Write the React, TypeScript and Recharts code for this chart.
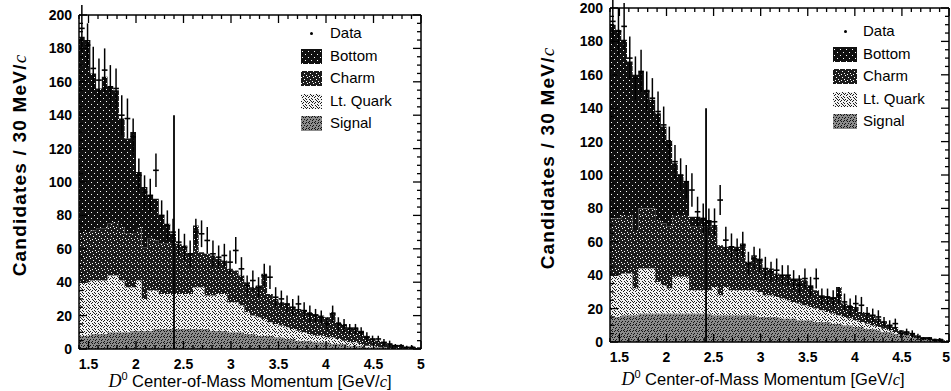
import React from 'react';
import { ComposedChart, Area, Scatter, ErrorBar, XAxis, YAxis, ReferenceLine } from 'recharts';

// bin edges (GeV/c), 60 MeV wide
const BIN_EDGES = [
  1.4, 1.46, 1.52, 1.58, 1.64, 1.7, 1.76, 1.82, 1.88, 1.94, 2.0, 2.06, 2.12, 2.18, 2.24, 2.3,
  2.36, 2.42, 2.48, 2.54, 2.6, 2.66, 2.72, 2.78, 2.84, 2.9, 2.96, 3.02, 3.08, 3.14, 3.2, 3.26,
  3.32, 3.38, 3.44, 3.5, 3.56, 3.62, 3.68, 3.74, 3.8, 3.86, 3.92, 3.98, 4.04, 4.1, 4.16, 4.22,
  4.28, 4.34, 4.4, 4.46, 4.52, 4.58, 4.64, 4.7, 4.76, 4.82, 4.88, 4.94, 5.0,
];

const X_TICKS = [
  1.4, 1.5, 1.6, 1.7, 1.8, 1.9, 2, 2.1, 2.2, 2.3, 2.4, 2.5, 2.6, 2.7, 2.8, 2.9, 3, 3.1, 3.2,
  3.3, 3.4, 3.5, 3.6, 3.7, 3.8, 3.9, 4, 4.1, 4.2, 4.3, 4.4, 4.5, 4.6, 4.7, 4.8, 4.9, 5,
];
const X_LABELS = [1.5, 2, 2.5, 3, 3.5, 4, 4.5, 5];
const Y_TICKS = [
  0, 5, 10, 15, 20, 25, 30, 35, 40, 45, 50, 55, 60, 65, 70, 75, 80, 85, 90, 95, 100, 105, 110,
  115, 120, 125, 130, 135, 140, 145, 150, 155, 160, 165, 170, 175, 180, 185, 190, 195, 200,
];
const Y_LABELS = [0, 20, 40, 60, 80, 100, 120, 140, 160, 180, 200];

const LEGEND_LABELS = ['Data', 'Bottom', 'Charm', 'Lt. Quark', 'Signal'];

// left panel
const L_SIGNAL = [
  8, 8, 9, 9, 9, 10, 10, 10, 10, 11, 11, 11, 11, 12, 12, 12, 12, 12, 12, 12,
  12, 12, 12, 11, 11, 11, 10, 10, 10, 9, 9, 8, 8, 8, 7, 7, 6, 6, 5, 5,
  5, 4, 4, 4, 3, 3, 3, 2, 2, 2, 1, 1, 1, 1, 0, 0, 0, 0, 0, 0,
];
const L_LTQUARK = [
  32, 32, 32, 32, 32, 34, 34, 31, 27, 26, 30, 19, 24, 23, 21, 21, 21, 21, 21, 21,
  25, 25, 20, 21, 22, 22, 18, 18, 16, 13, 11, 11, 10, 8, 8, 7, 7, 6, 6, 5,
  4, 4, 4, 3, 4, 3, 2, 2, 2, 1, 1, 1, 0, 0, 0, 0, 0, 0, 0, 0,
];
const L_CHARM = [
  30, 30, 30, 31, 31, 31, 32, 32, 32, 32, 32, 31, 31, 30, 30, 30, 30, 30, 29, 24,
  37, 21, 25, 24, 21, 20, 20, 19, 18, 18, 17, 19, 27, 17, 15, 14, 14, 13, 13, 13,
  13, 13, 12, 12, 15, 10, 10, 9, 9, 8, 6, 4, 4, 3, 3, 2, 2, 1, 1, 1,
];
const L_BOTTOM = [
  117, 115, 94, 84, 91, 82, 79, 65, 57, 61, 33, 36, 26, 25, 17, 12, 6, 0, 0, 0,
  0, 0, 0, 0, 0, 0, 0, 0, 0, 0, 0, 0, 0, 0, 0, 0, 0, 0, 0, 0,
  0, 0, 0, 0, 0, 0, 0, 0, 0, 0, 0, 0, 0, 0, 0, 0, 0, 0, 0, 0,
];
const L_DATA = [
  192, 182, 168, 161, 167, 157, 156, 140, 138, 127, 104, 94, 92, 107, 80, 74, 70, 64, 61, 57,
  70, 69, 65, 57, 55, 56, 52, 59, 48, 38, 41, 37, 44, 43, 31, 30, 27, 25, 27, 23,
  21, 20, 19, 15, 21, 15, 14, 12, 12, 10, 7, 6, 6, 4, 3, 2, 2, 1, 1, 0,
];
const L_ERR = [
  14, 13, 13, 13, 13, 13, 12, 12, 12, 11, 10, 10, 10, 10, 9, 9, 8, 8, 8, 8,
  8, 8, 8, 8, 7, 7, 7, 8, 7, 6, 6, 6, 7, 7, 6, 5, 5, 5, 5, 5,
  5, 4, 4, 4, 5, 4, 4, 3, 3, 3, 3, 2, 2, 2, 2, 1, 1, 1, 1, 0,
];

// right panel
const R_SIGNAL = [
  15, 15, 16, 16, 16, 17, 17, 17, 17, 17, 17, 17, 17, 17, 17, 17, 17, 17, 16, 16,
  16, 16, 16, 16, 16, 16, 15, 15, 15, 15, 14, 14, 14, 13, 13, 13, 12, 12, 12, 11,
  11, 10, 10, 9, 9, 8, 8, 7, 6, 6, 5, 4, 4, 3, 3, 2, 2, 1, 1, 0,
];
const R_LTQUARK = [
  25, 25, 25, 25, 16, 27, 27, 27, 19, 17, 15, 22, 22, 22, 14, 14, 14, 14, 17, 12,
  17, 15, 15, 15, 15, 15, 15, 13, 13, 12, 12, 11, 10, 10, 9, 8, 8, 7, 6, 6,
  5, 5, 4, 4, 3, 3, 2, 2, 2, 1, 1, 1, 0, 0, 0, 0, 0, 0, 0, 0,
];
const R_CHARM = [
  34, 34, 35, 35, 35, 36, 36, 36, 37, 37, 37, 37, 37, 37, 38, 38, 38, 38, 37, 30,
  24, 26, 26, 28, 17, 21, 20, 16, 16, 14, 14, 15, 14, 15, 15, 13, 11, 9, 9, 10,
  17, 8, 8, 8, 6, 6, 6, 5, 4, 3, 3, 2, 2, 2, 1, 1, 1, 1, 1, 1,
];
const R_BOTTOM = [
  116, 113, 105, 92, 93, 82, 71, 65, 64, 58, 52, 31, 24, 20, 6, 6, 5, 4, 0, 0,
  0, 0, 0, 0, 0, 0, 0, 0, 0, 0, 0, 0, 0, 0, 0, 0, 0, 0, 0, 0,
  0, 0, 0, 0, 0, 0, 0, 0, 0, 0, 0, 0, 0, 0, 0, 0, 0, 0, 0, 0,
];
const R_DATA = [
  192, 186, 189, 170, 158, 162, 150, 146, 138, 130, 118, 108, 100, 96, 91, 78, 74, 72, 72, 85,
  61, 57, 55, 58, 47, 50, 49, 44, 42, 43, 40, 40, 37, 34, 38, 33, 38, 27, 27, 26,
  28, 24, 21, 23, 22, 17, 16, 15, 12, 10, 11, 5, 6, 5, 3, 2, 2, 1, 1, 0,
];
const R_ERR = [
  14, 14, 14, 13, 13, 13, 12, 12, 12, 11, 11, 10, 10, 10, 10, 9, 9, 8, 8, 9,
  8, 8, 7, 8, 7, 7, 7, 7, 6, 7, 6, 6, 6, 6, 6, 6, 6, 5, 5, 5,
  5, 5, 5, 5, 5, 4, 4, 4, 3, 3, 3, 2, 2, 2, 2, 1, 1, 1, 1, 0,
];

// halftone look of the scanned figure: background + speckle dots in a 6x6 cell
const TEXTURES: Record<string, { bg: string; dot: string; dots: number[][] }> = {
  bottom: { bg: '#101010', dot: '#ffffff', dots: [[1, 2], [4, 5]] },
  charm: { bg: '#1c1c1c', dot: '#ffffff', dots: [[0, 0], [3, 2], [5, 4], [2, 5]] },
  ltQuark: {
    bg: '#f2f2f2',
    dot: '#1a1a1a',
    dots: [[0, 1], [3, 0], [5, 2], [1, 3], [4, 4], [2, 5], [2, 2], [5, 5], [4, 1]],
  },
  signal: {
    bg: '#8c8c8c',
    dot: '#111111',
    dots: [[1, 0], [4, 1], [0, 3], [3, 3], [5, 4], [2, 5], [5, 0], [2, 1]],
  },
};

const FONT = '"Liberation Sans", Arial, Helvetica, sans-serif';

const isMultiple = (v: number, step: number) => Math.abs(v / step - Math.round(v / step)) < 1e-6;

const PatternDefs = ({ prefix }: { prefix: string }) => (
  <defs>
    {Object.entries(TEXTURES).map(([key, t]) => (
      <pattern key={key} id={`${prefix}-${key}`} patternUnits="userSpaceOnUse" width={6} height={6}>
        <rect width={6} height={6} fill={t.bg} />
        {t.dots.map(([dx, dy], i) => (
          <rect key={i} x={dx} y={dy} width={1} height={1} fill={t.dot} />
        ))}
      </pattern>
    ))}
  </defs>
);

const XTick = (props: any) => {
  const { x, y, payload, plotTop, endLast } = props;
  const v = payload.value as number;
  const major = isMultiple(v, 0.5);
  const len = major ? 8 : 4;
  const showLabel = X_LABELS.some((l) => Math.abs(l - v) < 1e-6);
  const atEnd = endLast && Math.abs(v - 5) < 1e-6;
  return (
    <g>
      <line x1={x} y1={y} x2={x} y2={y - len} stroke="#000" strokeWidth={1.3} />
      <line x1={x} y1={plotTop} x2={x} y2={plotTop + len} stroke="#000" strokeWidth={1.3} />
      {showLabel && (
        <text
          x={atEnd ? x + 1 : x}
          y={y + 20}
          textAnchor={atEnd ? 'end' : 'middle'}
          fontFamily={FONT}
          fontSize={14}
          fontWeight="bold"
          fill="#000"
        >
          {String(v)}
        </text>
      )}
    </g>
  );
};

const YTick = (props: any) => {
  const { x, y, payload, plotRight } = props;
  const v = payload.value as number;
  const major = isMultiple(v, 20);
  const len = major ? 8 : 4;
  const showLabel = Y_LABELS.includes(v);
  return (
    <g>
      <line x1={x} y1={y} x2={x + len} y2={y} stroke="#000" strokeWidth={1.3} />
      <line x1={plotRight} y1={y} x2={plotRight - len} y2={y} stroke="#000" strokeWidth={1.3} />
      {showLabel && (
        <text x={x - 7} y={y + 5} textAnchor="end" fontFamily={FONT} fontSize={14} fontWeight="bold" fill="#000">
          {String(v)}
        </text>
      )}
    </g>
  );
};

interface PanelProps {
  id: string;
  left: number;
  width: number;
  margin: { top: number; right: number; bottom: number; left: number };
  signal: number[];
  ltQuark: number[];
  charm: number[];
  bottom: number[];
  data: number[];
  err: number[];
  limit: number;
  endLast?: boolean;
}

const Panel = ({ id, left, width, margin, signal, ltQuark, charm, bottom, data, err, limit, endLast }: PanelProps) => {
  const last = signal.length - 1;
  const rows = BIN_EDGES.map((x, i) => {
    const j = Math.min(i, last);
    return { x, signal: signal[j], ltQuark: ltQuark[j], charm: charm[j], bottom: bottom[j] };
  });
  const points = data
    .map((d, i) => ({
      x: (BIN_EDGES[i] + BIN_EDGES[i + 1]) / 2,
      data: d,
      err: err[i],
      xerr: (BIN_EDGES[i + 1] - BIN_EDGES[i]) / 2,
    }))
    .filter((p) => p.data > 0);

  const plotTop = margin.top;
  const plotRight = width - margin.right;

  return (
    <div style={{ position: 'absolute', left, top: 0 }}>
      <ComposedChart width={width} height={391} data={rows} margin={margin}>
        <PatternDefs prefix={id} />
        <XAxis
          dataKey="x"
          type="number"
          domain={[1.4, 5]}
          ticks={X_TICKS}
          interval={0}
          allowDataOverflow
          tickSize={0}
          tickMargin={0}
          height={30}
          axisLine={{ stroke: '#000', strokeWidth: 1.5 }}
          tick={<XTick plotTop={plotTop} endLast={endLast} />}
        />
        <YAxis
          type="number"
          domain={[0, 200]}
          ticks={Y_TICKS}
          interval={0}
          allowDataOverflow
          tickSize={0}
          tickMargin={0}
          width={60}
          axisLine={{ stroke: '#000', strokeWidth: 1.5 }}
          tick={<YTick plotRight={plotRight} />}
        />
        <Area type="stepAfter" dataKey="signal" stackId="mc" stroke="none" fill={`url(#${id}-signal)`} fillOpacity={1} isAnimationActive={false} />
        <Area type="stepAfter" dataKey="ltQuark" stackId="mc" stroke="none" fill={`url(#${id}-ltQuark)`} fillOpacity={1} isAnimationActive={false} />
        <Area type="stepAfter" dataKey="charm" stackId="mc" stroke="none" fill={`url(#${id}-charm)`} fillOpacity={1} isAnimationActive={false} />
        <Area type="stepAfter" dataKey="bottom" stackId="mc" stroke="none" fill={`url(#${id}-bottom)`} fillOpacity={1} isAnimationActive={false} />
        <ReferenceLine y={200} stroke="#000" strokeWidth={1.5} />
        <ReferenceLine x={5} stroke="#000" strokeWidth={1.5} />
        <ReferenceLine
          segment={[
            { x: limit, y: 0 },
            { x: limit, y: 140 },
          ]}
          stroke="#000"
          strokeWidth={1.8}
        />
        <Scatter data={points} dataKey="data" fill="#000" shape={() => <g />} isAnimationActive={false}>
          <ErrorBar dataKey="err" direction="y" width={0} stroke="#000" strokeWidth={1.5} />
          <ErrorBar dataKey="xerr" direction="x" width={0} stroke="#000" strokeWidth={1.6} />
        </Scatter>
      </ComposedChart>
    </div>
  );
};

const Legend = ({ id, left, top, swatchLeft, swatchWidth }: { id: string; left: number; top: number; swatchLeft: number; swatchWidth: number }) => {
  const keys = ['', 'bottom', 'charm', 'ltQuark', 'signal'];
  return (
    <>
      {LEGEND_LABELS.map((label, i) => {
        const cy = top + i * 22.5;
        return (
          <React.Fragment key={label}>
            {i === 0 ? (
              <div style={{ position: 'absolute', left: swatchLeft + swatchWidth / 2 - 1.5, top: cy - 1.5, width: 3, height: 3, background: '#000', borderRadius: 2 }} />
            ) : (
              <svg style={{ position: 'absolute', left: swatchLeft, top: cy - 7 }} width={swatchWidth} height={15}>
                <PatternDefs prefix={`${id}-lg${i}`} />
                <rect width={swatchWidth} height={15} fill={`url(#${id}-lg${i}-${keys[i]})`} />
              </svg>
            )}
            <div style={{ position: 'absolute', left, top: cy - 9, fontFamily: FONT, fontSize: 15, lineHeight: '18px', color: '#000', whiteSpace: 'nowrap' }}>
              {label}
            </div>
          </React.Fragment>
        );
      })}
    </>
  );
};

const YTitle = ({ cx, cy }: { cx: number; cy: number }) => (
  <div
    style={{
      position: 'absolute',
      left: cx,
      top: cy,
      transform: 'translate(-50%, -50%) rotate(-90deg)',
      fontFamily: FONT,
      fontSize: 19,
      letterSpacing: 1.2,
      fontWeight: 'bold',
      whiteSpace: 'nowrap',
      color: '#000',
    }}
  >
    Candidates / 30 MeV/<span style={{ fontFamily: '"Liberation Serif", serif', fontStyle: 'italic', fontWeight: 'normal' }}>c</span>
  </div>
);

const XTitle = ({ cx, cy }: { cx: number; cy: number }) => (
  <div
    style={{
      position: 'absolute',
      left: cx,
      top: cy,
      transform: 'translate(-50%, -50%)',
      fontFamily: FONT,
      fontSize: 16.5,
      whiteSpace: 'nowrap',
      color: '#000',
    }}
  >
    <span style={{ fontFamily: '"Liberation Serif", serif', fontStyle: 'italic', fontSize: 18 }}>D</span>
    <sup style={{ fontSize: 11 }}>0</sup> Center-of-Mass Momentum [GeV/
    <span style={{ fontFamily: '"Liberation Serif", serif', fontStyle: 'italic' }}>c</span>]
  </div>
);

export default function App() {
  return (
    <div style={{ position: 'absolute', left: 0, top: 0, width: 951, height: 391, background: '#fff', overflow: 'hidden' }}>
      <Panel
        id="pl"
        left={0}
        width={440}
        margin={{ top: 15, right: 19, bottom: 12, left: 19 }}
        signal={L_SIGNAL}
        ltQuark={L_LTQUARK}
        charm={L_CHARM}
        bottom={L_BOTTOM}
        data={L_DATA}
        err={L_ERR}
        limit={2.4}
      />
      <Panel
        id="pr"
        left={520}
        width={431}
        margin={{ top: 8, right: 2, bottom: 19, left: 30 }}
        signal={R_SIGNAL}
        ltQuark={R_LTQUARK}
        charm={R_CHARM}
        bottom={R_BOTTOM}
        data={R_DATA}
        err={R_ERR}
        limit={2.42}
        endLast
      />
      <YTitle cx={20} cy={165} />
      <YTitle cx={548} cy={158} />
      <XTitle cx={250} cy={381} />
      <XTitle cx={763} cy={379} />
      <Legend id="ll" left={330} top={33} swatchLeft={301} swatchWidth={21} />
      <Legend id="rl" left={863} top={31} swatchLeft={833} swatchWidth={24} />
    </div>
  );
}
